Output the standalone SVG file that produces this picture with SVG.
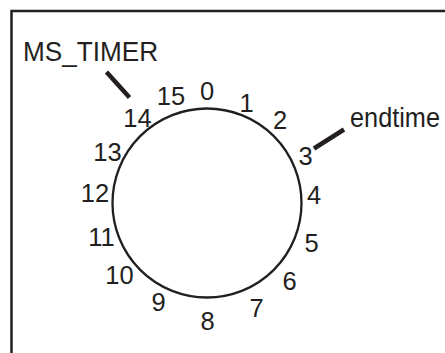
<svg xmlns="http://www.w3.org/2000/svg" width="445" height="353" viewBox="0 0 445 353">
<style>
.t{font-family:"Liberation Sans",Arial,sans-serif;fill:#231f20}
.d{font-size:25.5px;text-anchor:middle}
.l{font-size:27px}
.ptr{stroke:#231f20;stroke-width:4.5;stroke-linecap:butt}
</style>
<rect width="445" height="353" fill="#fff"/>
<g id="frame"><rect x="11.5" y="11" width="500" height="400" fill="none" stroke="#231f20" stroke-width="2.5"/></g>
<g id="dial"><circle cx="207" cy="203" r="94.5" fill="none" stroke="#231f20" stroke-width="2.3"/></g>
<g id="ticks" class="t d">
<g id="n0"><text x="207" y="100">0</text></g>
<g id="n1"><text x="246.5" y="112">1</text></g>
<g id="n2"><text x="280" y="128.5">2</text></g>
<g id="n3"><text x="305.5" y="165">3</text></g>
<g id="n4"><text x="314" y="204">4</text></g>
<g id="n5"><text x="311.5" y="251.5">5</text></g>
<g id="n6"><text x="289.5" y="290">6</text></g>
<g id="n7"><text x="256.5" y="317">7</text></g>
<g id="n8"><text x="207.5" y="330">8</text></g>
<g id="n9"><text x="158.5" y="310.5">9</text></g>
<g id="n10"><text x="119.5" y="284">10</text></g>
<g id="n11"><text x="101.5" y="246">11</text></g>
<g id="n12"><text x="95" y="202">12</text></g>
<g id="n13"><text x="107.5" y="161">13</text></g>
<g id="n14"><text x="137.5" y="127">14</text></g>
<g id="n15"><text x="171" y="104.5">15</text></g>
</g>
<g id="ms_timer"><text class="t l" x="23" y="60.5" textLength="135" lengthAdjust="spacingAndGlyphs">MS_TIMER</text></g>
<g id="endtime"><text class="t l" x="350" y="126.5" textLength="90" lengthAdjust="spacingAndGlyphs">endtime</text></g>
<g id="connectors">
<line class="ptr" x1="106.5" y1="72" x2="129.5" y2="97.5"/>
<line class="ptr" x1="314" y1="148.5" x2="344" y2="129.5"/>
</g>
</svg>
